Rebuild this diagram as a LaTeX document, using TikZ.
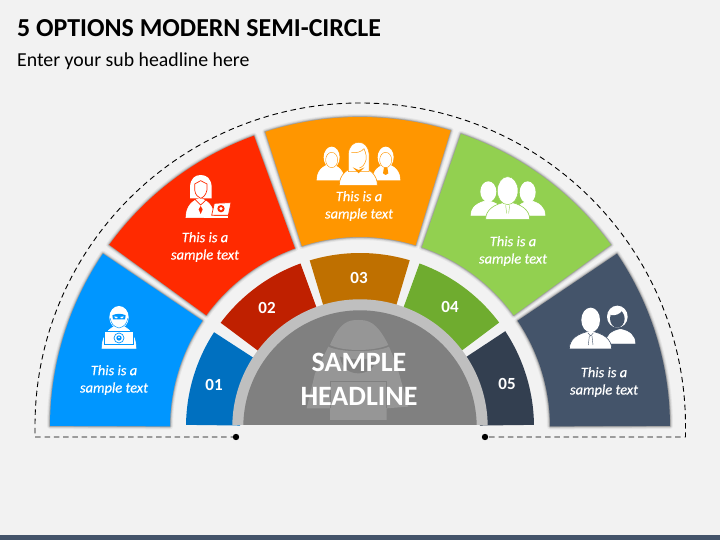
\documentclass[tikz,border=0pt]{standalone}
\usepackage{fontspec}
\setmainfont{Carlito}
\newfontfamily\labf[FakeBold=.5]{Carlito}
\definecolor{bgc}{HTML}{F2F2F2}
\definecolor{cA}{HTML}{0096FF}\definecolor{cB}{HTML}{FF2A00}\definecolor{cC}{HTML}{FF9600}
\definecolor{cD}{HTML}{92D050}\definecolor{cE}{HTML}{44546A}
\definecolor{dA}{HTML}{0070C0}\definecolor{dB}{HTML}{BF2000}\definecolor{dC}{HTML}{BF7000}
\definecolor{dD}{HTML}{6FAC2F}\definecolor{dE}{HTML}{333F50}
\definecolor{ghost}{HTML}{969696}
\newcommand\sectpath[4]{(#3:#2) arc[start angle=#3,end angle=#4,radius=#2] -- (#4:#1) arc[start angle=#4,end angle=#3,radius=#1] -- cycle}
\newcommand\outerseg[3]{%
  \draw[black,opacity=.05,line width=6pt,line join=round] \sectpath{190}{310}{#1}{#2};
  \draw[black,opacity=.08,line width=4pt,line join=round] \sectpath{190}{310}{#1}{#2};
  \draw[black,opacity=.12,line width=2.4pt,line join=round] \sectpath{190}{310}{#1}{#2};
  \draw[black,opacity=.15,line width=1.2pt,line join=round] \sectpath{190}{310}{#1}{#2};
  \fill[#3] \sectpath{190}{310}{#1}{#2};}
\newcommand\bust[5][white]{\fill[white,draw=#1,line width=.6pt] (#2,#4) .. controls (#2,{#4-.55*(#4-#5)}) and ({#2+.2*(#3-#2)},{#5+.12*(#4-#5)}) .. ({.5*(#2+#3)},#5) .. controls ({#3-.2*(#3-#2)},{#5+.12*(#4-#5)}) and (#3,{#4-.55*(#4-#5)}) .. (#3,#4) -- cycle;}
\tikzset{
  seglabel/.style={text=white,font=\fontsize{14.5}{17.3}\selectfont\labf\itshape,align=center,inner sep=0pt},
  numlabel/.style={text=white,font=\fontsize{17}{20}\selectfont\bfseries,inner sep=0pt},
  dot/.style={circle,fill=black,inner sep=0pt,minimum size=6.4pt},
  dashline/.style={black,line width=.9pt,dash pattern=on 5.5pt off 3.8pt},
  crop/.style={x=.33333pt,y=-.33333pt}
}
\begin{document}
\begin{tikzpicture}[x=1pt,y=1pt]
\useasboundingbox (0,0) rectangle (720,540);
\fill[bgc] (0,0) rectangle (720,540);
\fill[cE] (0,0) rectangle (720,5);
\node[anchor=base west,inner sep=0pt,font=\fontsize{25.9}{30}\selectfont\bfseries] (title) at (17,503) {5 OPTIONS MODERN SEMI-CIRCLE};
\node[anchor=base west,inner sep=0pt,font=\fontsize{19.8}{23}\selectfont] (sub) at (17,473.5) {Enter your sub headline here};
% dashed outline
\node[dot] (d1) at (236,103) {};
\node[dot] (d2) at (485,103) {};
\coordinate (cl) at (35,103);
\coordinate (cr) at (685.5,103);
\draw[dashline] (d1.center) -- (cl) -- (35,114) arc[start angle=180,end angle=0,x radius=325.25,y radius=323] -- (cr) -- (d2.center);
% segments
\begin{scope}[shift={(360,113)}]
\outerseg{179.8}{146}{cA}
\outerseg{144}{110}{cB}
\outerseg{107.8}{73}{cC}
\outerseg{71}{36}{cD}
\outerseg{34}{.2}{cE}
\fill[dA] \sectpath{120}{174}{179.3}{147};
\fill[dB] \sectpath{120}{174}{143.2}{110};
\fill[dC] \sectpath{120}{174}{106.8}{73.4};
\fill[dD] \sectpath{120}{174}{70}{36.9};
\fill[dE] \sectpath{120}{174}{33.4}{.7};
\begin{scope}
\clip (-200,2) rectangle (200,200);
\fill[black!25] (0,0) circle[radius=127.7];
\fill[black!50] (0,0) circle[radius=116.7];
\end{scope}
\end{scope}
% ghost icon in centre
\begin{scope}[shift={(290,230)},crop]
\fill[ghost] (120,105) .. controls (150,35) and (175,30) .. (205,30) .. controls (235,30) and (260,35) .. (295,105) .. controls (250,125) and (160,125) .. (120,105) -- cycle;
\fill[ghost] (115,110) .. controls (150,128) and (260,128) .. (297,110) -- (320,165) -- (355,290) -- (290,295) -- (290,330) -- (120,330) -- (120,295) -- (50,295) -- (75,190) -- cycle;
\fill[black!50] (150,140) .. controls (175,150) and (235,150) .. (262,140) .. controls (255,180) and (225,190) .. (205,190) .. controls (185,190) and (155,180) .. (150,140) -- cycle;
\draw[black!50,line width=.7pt] (120,295) -- (120,215) -- (290,215) -- (290,295);
\end{scope}
\node[inner sep=0pt,text=white,align=center,font=\fontsize{28}{34}\selectfont\bfseries] (head) at (359,161) {SAMPLE\\HEADLINE};
% labels
\node[seglabel] (t1) at (114,160) {This is a\\sample text};
\node[seglabel] (t2) at (205,293) {This is a\\sample text};
\node[seglabel] (t3) at (359,334) {This is a\\sample text};
\node[seglabel] (t4) at (513,289) {This is a\\sample text};
\node[seglabel] (t5) at (604,158) {This is a\\sample text};
\node[numlabel] (n1) at (214,155) {01};
\node[numlabel] (n2) at (267,232) {02};
\node[numlabel] (n3) at (359,262) {03};
\node[numlabel] (n4) at (450,233) {04};
\node[numlabel] (n5) at (507,156) {05};
% icon 1: hacker
\begin{scope}[shift={(0,310)},crop]
\fill[white] (357,262) ellipse[x radius=29,y radius=34];
\bust{306}{408}{355}{284}
\draw[cA,line width=.5pt] (331,265) .. controls (333,280) and (340,290) .. (357,294) .. controls (374,290) and (381,280) .. (383,265);
\fill[cA] (337,256) .. controls (348,250) and (366,250) .. (377,256) -- (375,268) -- (339,268) -- cycle;
\fill[white] (343,259) -- (353,261) -- (351,265) -- (345,264) -- cycle;
\fill[white] (371,259) -- (361,261) -- (363,265) -- (369,264) -- cycle;
\fill[white,draw=cA,line width=.7pt] (313,303) rectangle (401,344);
\draw[cA,line width=.7pt] (357,324) circle[radius=15];
\fill[cA] (357,324) circle[radius=8];
\fill[white] (357,322) circle[radius=3];
\fill[white] (314,344) rectangle (400,355);
\end{scope}
% icon 2: woman with laptop
\begin{scope}[shift={(160,430)},crop]
\fill[white] (90,265) -- (90,230) .. controls (92,205) and (105,195) .. (122,195) .. controls (140,195) and (153,205) .. (155,230) -- (155,265) -- cycle;
\bust{78}{162}{323}{265}
\fill[white,draw=cB,line width=.7pt] (104,222) -- (122,212) -- (141,222) -- (141,240) .. controls (138,255) and (130,262) .. (122,265) .. controls (114,262) and (106,255) .. (104,240) -- cycle;
\draw[cB,line width=.7pt] (105,268) -- (122,285) -- (140,268);
\fill[cB] (122,288) -- (128,298) -- (122,312) -- (116,298) -- cycle;
\fill[white,draw=cB,line width=.7pt] (163,280) -- (213,278) -- (205,316) -- (155,316) -- cycle;
\fill[cB] (183,296) circle[radius=11];
\fill[white] (183,296) circle[radius=5];
\fill[white] (132,318) rectangle (203,323);
\end{scope}
% icon 3: three people
\begin{scope}[shift={(160,430)},crop]
\bust{471}{552}{210}{162}
\fill[white] (515,142) ellipse[x radius=24,y radius=32];
\draw[cC,line width=.4pt] (515,150) ellipse[x radius=18,y radius=23];
\bust{638}{720}{210}{162}
\fill[white] (677,142) ellipse[x radius=24,y radius=32];
\draw[cC,line width=.4pt] (677,150) ellipse[x radius=18,y radius=23];
\fill[cC] (672,172) -- (682,172) -- (685,190) -- (677,195) -- (669,190) -- cycle;
\bust[cC]{538}{652}{226}{168}
\fill[white,draw=cC,line width=.5pt] (565,185) -- (565,130) .. controls (568,108) and (580,97) .. (596,97) .. controls (612,97) and (624,108) .. (627,130) -- (627,185) -- cycle;
\draw[cC,line width=.5pt] (574,128) .. controls (590,130) and (605,125) .. (612,116) .. controls (618,130) and (620,140) .. (618,150) .. controls (614,165) and (606,172) .. (598,174);
\fill[cC] (578,172) -- (596,180) -- (614,172) -- (596,190) -- cycle;
\end{scope}
% icon 4: three men
\begin{scope}[shift={(420,410)},crop]
\bust{153}{250}{256}{212}
\fill[white] (205,185) ellipse[x radius=24,y radius=31];
\bust{285}{375}{256}{212}
\fill[white] (323,187) ellipse[x radius=24,y radius=33];
\bust[cD]{197}{329}{268}{215}
\fill[white,draw=cD,line width=.5pt] (263,182) ellipse[x radius=31,y radius=42];
\draw[cD,line width=.4pt] (257,226) -- (260,250) (269,226) -- (266,250);
\end{scope}
% icon 5: man and woman
\begin{scope}[shift={(420,410)},crop]
\bust{558}{645}{640}{598}
\fill[white] (592,560) ellipse[x radius=31,y radius=33];
\fill[cE] (592,566) ellipse[x radius=22,y radius=27];
\fill[white] (572,555) .. controls (585,558) and (600,552) .. (606,542) -- (590,532) -- (572,540) -- cycle;
\bust[cE]{448}{575}{657}{603}
\fill[white] (512,570) ellipse[x radius=28,y radius=37];
\draw[cE,line width=.4pt] (504,609) -- (512,618) -- (520,609) (508,618) -- (505,645) (516,618) -- (519,645);
\end{scope}
\end{tikzpicture}
\end{document}
